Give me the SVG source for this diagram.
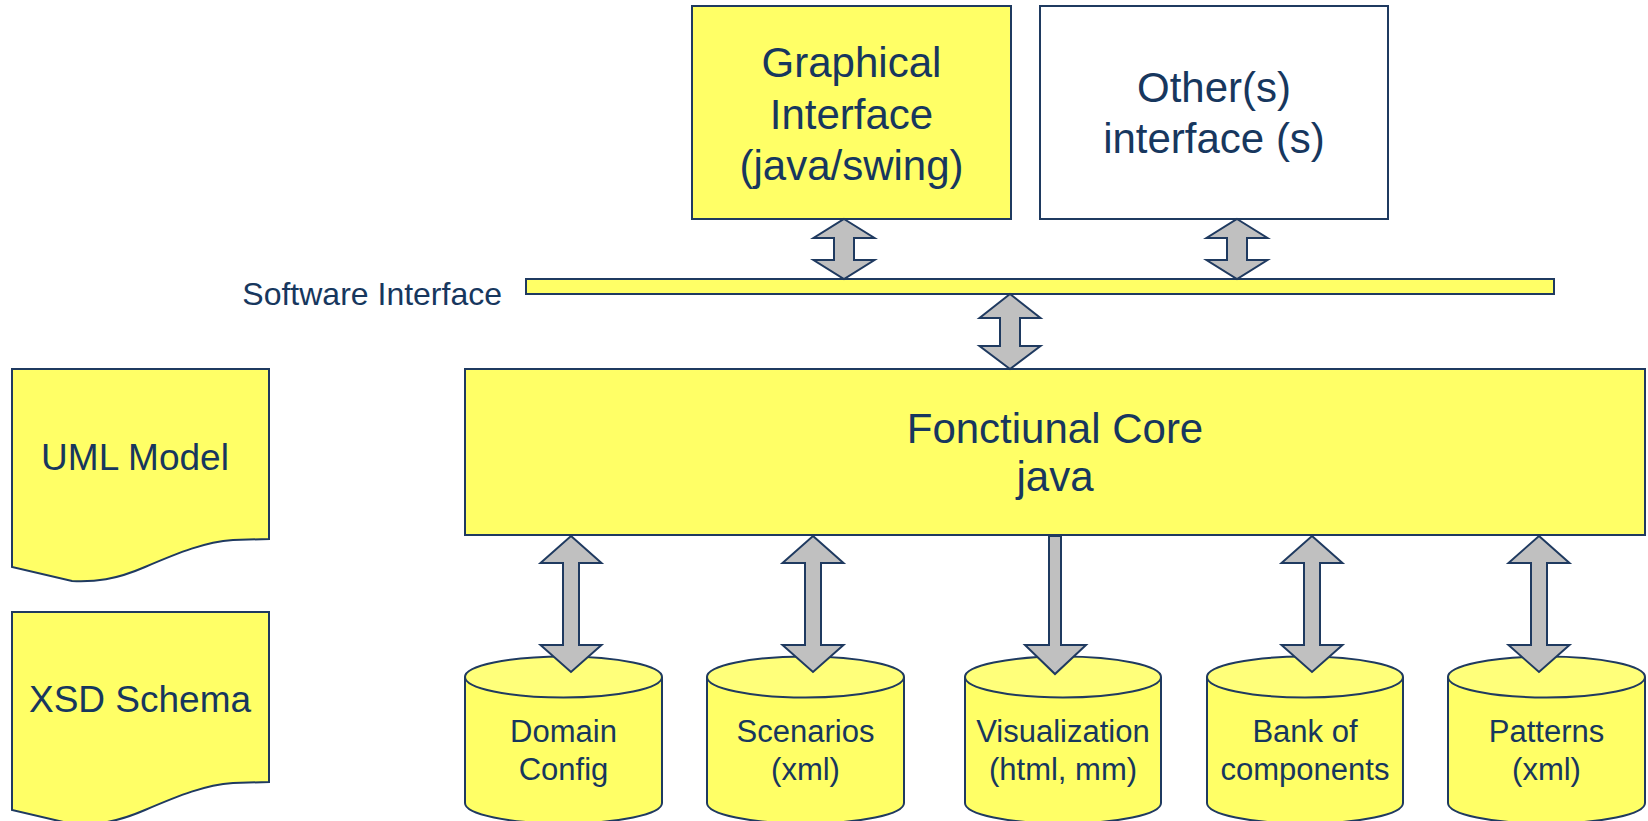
<svg xmlns="http://www.w3.org/2000/svg" width="1648" height="821" viewBox="0 0 1648 821">
<style>
.box{fill:#FFFF66;stroke:#1F3A60;stroke-width:2}
.wbox{fill:#FFFFFF;stroke:#1F3A60;stroke-width:2}
.top{fill:#FFFF7A;stroke:#1F3A60;stroke-width:2}
.arr{fill:#C0C0C0;stroke:#1F3A60;stroke-width:2;stroke-linejoin:miter}
text{font-family:"Liberation Sans",Arial,sans-serif;fill:#17375E;text-anchor:middle}
.big{font-size:42px}
.mid{font-size:37px}
.sm{font-size:31px}
</style>
<rect width="1648" height="821" fill="#FFFFFF"/>
<g id="graphical-interface">
<rect class="box" x="692" y="6" width="319" height="213"/>
<text class="big" x="851.5" y="77">Graphical</text>
<text class="big" x="851.5" y="129">Interface</text>
<text class="big" x="851.5" y="180">(java/swing)</text>
</g>
<g id="other-interfaces">
<rect class="wbox" x="1040" y="6" width="348" height="213"/>
<text class="big" x="1214" y="102">Other(s)</text>
<text class="big" x="1214" y="153">interface (s)</text>
</g>
<g id="software-interface">
<rect class="box" x="526" y="279" width="1028" height="15"/>
<text x="502" y="305" style="text-anchor:end;font-size:32px">Software Interface</text>
</g>
<g id="core">
<rect class="box" x="465" y="369" width="1180" height="166"/>
<text class="big" x="1055" y="443">Fonctiunal Core</text>
<text class="big" x="1055" y="491">java</text>
</g>
<g id="uml-model">
<path class="box" d="M12,369 L269,369 L269,539 L233,540 C205,542 180,552 145,567 C115,580 95,582 72,581 L12,567 Z"/>
<text class="mid" x="135" y="470">UML Model</text>
</g>
<g id="xsd-schema">
<path class="box" d="M12,612 L269,612 L269,782 L233,783 C205,785 180,795 145,810 C115,823 95,825 72,824 L12,810 Z"/>
<text class="mid" x="140" y="712">XSD Schema</text>
</g>
<g id="domain-config">
<path class="box" d="M465,677 V803 A98.5,20.5 0 0 0 662,803 V677"/>
<ellipse class="top" cx="563.5" cy="677" rx="98.5" ry="20.5"/>
<text class="sm" x="563.5" y="742">Domain</text>
<text class="sm" x="563.5" y="780">Config</text>
</g>
<g id="scenarios">
<path class="box" d="M707,677 V803 A98.5,20.5 0 0 0 904,803 V677"/>
<ellipse class="top" cx="805.5" cy="677" rx="98.5" ry="20.5"/>
<text class="sm" x="805.5" y="742">Scenarios</text>
<text class="sm" x="805.5" y="780">(xml)</text>
</g>
<g id="visualization">
<path class="box" d="M965,677 V803 A98,20.5 0 0 0 1161,803 V677"/>
<ellipse class="top" cx="1063" cy="677" rx="98" ry="20.5"/>
<text class="sm" x="1063" y="742">Visualization</text>
<text class="sm" x="1063" y="780">(html, mm)</text>
</g>
<g id="bank-of-components">
<path class="box" d="M1207,677 V803 A98,20.5 0 0 0 1403,803 V677"/>
<ellipse class="top" cx="1305" cy="677" rx="98" ry="20.5"/>
<text class="sm" x="1305" y="742">Bank of</text>
<text class="sm" x="1305" y="780">components</text>
</g>
<g id="patterns">
<path class="box" d="M1448,677 V803 A98.5,20.5 0 0 0 1645,803 V677"/>
<ellipse class="top" cx="1546.5" cy="677" rx="98.5" ry="20.5"/>
<text class="sm" x="1546.5" y="742">Patterns</text>
<text class="sm" x="1546.5" y="780">(xml)</text>
</g>
<g id="connectors">
<polygon class="arr" points="844,219 874.5,238 854,238 854,260 874.5,260 844,279 813.5,260 834,260 834,238 813.5,238"/>
<polygon class="arr" points="1237,219 1267.5,238 1247,238 1247,260 1267.5,260 1237,279 1206.5,260 1227,260 1227,238 1206.5,238"/>
<polygon class="arr" points="1010,294 1040.5,318 1020,318 1020,346 1040.5,346 1010,369 979.5,346 1000,346 1000,318 979.5,318"/>
<polygon class="arr" points="571,536 601.5,563 579,563 579,645 601.5,645 571,672 540.5,645 563,645 563,563 540.5,563"/>
<polygon class="arr" points="813,536 843.5,563 821,563 821,645 843.5,645 813,672 782.5,645 805,645 805,563 782.5,563"/>
<polygon class="arr" points="1049,536 1061,536 1061,645 1086,645 1055,674 1025,645 1049,645"/>
<polygon class="arr" points="1312,536 1342.5,563 1320,563 1320,645 1342.5,645 1312,672 1281.5,645 1304,645 1304,563 1281.5,563"/>
<polygon class="arr" points="1539,536 1569.5,563 1547,563 1547,645 1569.5,645 1539,672 1508.5,645 1531,645 1531,563 1508.5,563"/>
</g>
</svg>
